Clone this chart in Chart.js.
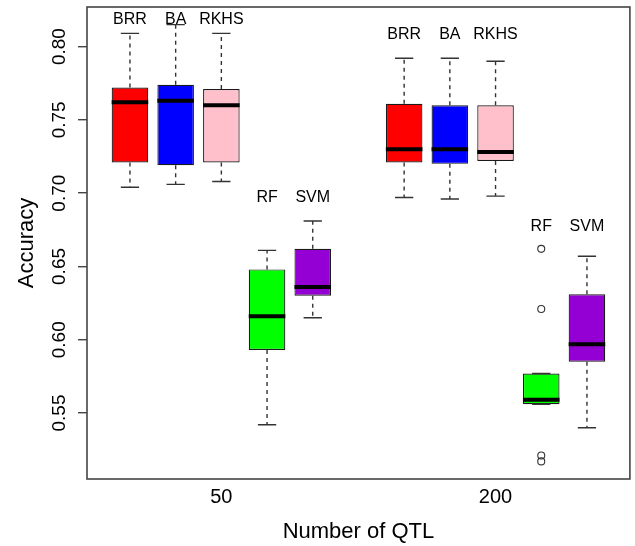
<!DOCTYPE html>
<html>
<head>
<meta charset="utf-8">
<script src="https://cdn.jsdelivr.net/npm/chart.js@4.4.1/dist/chart.umd.min.js"></script>
<style>
  html, body { margin: 0; padding: 0; background: #fff; }
</style>
</head>
<body>
<canvas id="accChart" width="635" height="546"></canvas>
<script>
// box positions on the x axis (1..5 = 50 QTL, 7..11 = 200 QTL)
const methods = ['BRR', 'BA', 'RKHS', 'RF', 'SVM', 'BRR', 'BA', 'RKHS', 'RF', 'SVM'];
const positions = [1, 2, 3, 4, 5, 7, 8, 9, 10, 11];
const boxColors = ['#FF0000', '#0000FF', '#FFC0CB', '#00FF00', '#9400D3',
                   '#FF0000', '#0000FF', '#FFC0CB', '#00FF00', '#9400D3'];

// five-number summaries
const whiskerLow  = [0.704, 0.706, 0.708, 0.542, 0.615, 0.697, 0.696, 0.698, 0.556, 0.540];
const q1          = [0.721, 0.719, 0.721, 0.593, 0.630, 0.721, 0.720, 0.722, 0.556, 0.585];
const medians     = [0.762, 0.763, 0.760, 0.616, 0.636, 0.730, 0.730, 0.728, 0.559, 0.597];
const q3          = [0.772, 0.774, 0.771, 0.648, 0.662, 0.761, 0.760, 0.760, 0.577, 0.631];
const whiskerHigh = [0.809, 0.815, 0.809, 0.661, 0.681, 0.792, 0.792, 0.790, 0.577, 0.657];

// height of the method names above each box
const labelY = [0.819, 0.819, 0.819, 0.698, 0.698, 0.809, 0.809, 0.809, 0.678, 0.678];

// outliers (RF, 200 QTL)
const outlierPos  = [10, 10, 10, 10];
const outlierVals = [0.662, 0.621, 0.521, 0.517];

const groupTicks  = [3, 9];
const groupLabels = ['50', '200'];
const yTicks = [0.55, 0.60, 0.65, 0.70, 0.75, 0.80];

const FONT = "'Liberation Sans', Arial, Helvetica, sans-serif";

// whiskers, medians, text and the frame (R boxplot look)
const boxPlotPlugin = {
  id: 'boxPlotParts',
  afterDatasetsDraw(chart) {
    const c = chart.ctx;
    const xs = chart.scales.x;
    const ys = chart.scales.y;
    const area = chart.chartArea;
    c.save();

    positions.forEach((p, i) => {
      const xc = xs.getPixelForValue(p);
      const halfBox = (xs.getPixelForValue(p + 0.4) - xs.getPixelForValue(p - 0.4)) / 2;
      const halfCap = halfBox / 2;
      const yLo = ys.getPixelForValue(whiskerLow[i]);
      const yQ1 = ys.getPixelForValue(q1[i]);
      const yQ3 = ys.getPixelForValue(q3[i]);
      const yHi = ys.getPixelForValue(whiskerHigh[i]);
      const yMed = ys.getPixelForValue(medians[i]);

      // dashed whiskers
      c.strokeStyle = '#333';
      c.lineWidth = 1.4;
      c.setLineDash([4, 4]);
      c.beginPath();
      c.moveTo(xc, yQ3); c.lineTo(xc, yHi);
      c.moveTo(xc, yQ1); c.lineTo(xc, yLo);
      c.stroke();
      c.setLineDash([]);

      // staples
      c.beginPath();
      c.moveTo(xc - halfCap, yHi); c.lineTo(xc + halfCap, yHi);
      c.moveTo(xc - halfCap, yLo); c.lineTo(xc + halfCap, yLo);
      c.stroke();

      // median
      c.strokeStyle = '#000';
      c.lineWidth = 4;
      c.beginPath();
      c.moveTo(xc - halfBox, yMed); c.lineTo(xc + halfBox, yMed);
      c.stroke();

      // method name
      c.fillStyle = '#000';
      c.font = '16px ' + FONT;
      c.textAlign = 'center';
      c.textBaseline = 'alphabetic';
      c.fillText(methods[i], xc, ys.getPixelForValue(labelY[i]) + 16 * 0.358);
    });

    // rotated y tick labels
    c.font = '19px ' + FONT;
    c.fillStyle = '#000';
    yTicks.forEach(v => {
      const y = ys.getPixelForValue(v);
      c.save();
      c.translate(58.5 + 19 * 0.358, y);
      c.rotate(-Math.PI / 2);
      c.textAlign = 'center';
      c.textBaseline = 'alphabetic';
      c.fillText(v.toFixed(2), 0, 0);
      c.restore();
    });

    // plot frame
    c.strokeStyle = '#444';
    c.lineWidth = 1.6;
    c.strokeRect(area.left, area.top, area.right - area.left, area.bottom - area.top);
    c.restore();
  }
};

const ctx = document.getElementById('accChart');

new Chart(ctx, {
  data: {
    datasets: [
      {
        type: 'bar',
        data: positions.map((p, i) => ({ x: p, y: [q1[i], q3[i]] })),
        backgroundColor: boxColors,
        borderColor: '#1a1a1a',
        borderWidth: 1.2,
        borderSkipped: false,
        barPercentage: 0.8,
        categoryPercentage: 1
      },
      {
        type: 'scatter',
        data: outlierPos.map((p, i) => ({ x: p, y: outlierVals[i] })),
        pointStyle: 'circle',
        pointRadius: 3.5,
        pointBorderWidth: 1.1,
        pointBorderColor: '#333',
        pointBackgroundColor: 'rgba(255,255,255,0)'
      }
    ]
  },
  options: {
    responsive: false,
    animation: false,
    layout: { padding: { left: 0, top: 7, right: 3, bottom: 0 } },
    plugins: {
      legend: { display: false },
      tooltip: { enabled: false }
    },
    scales: {
      x: {
        type: 'linear',
        min: 0.06,
        max: 11.94,
        offset: false,
        grid: { display: false, drawTicks: false, offset: false },
        border: { display: false },
        afterBuildTicks: s => { s.ticks = groupTicks.map(v => ({ value: v })); },
        afterFit: s => { s.height = 67; },
        ticks: {
          autoSkip: false,
          maxRotation: 0,
          padding: 6,
          color: '#000',
          font: { size: 20, family: FONT },
          callback: v => groupLabels[groupTicks.indexOf(v)]
        },
        title: {
          display: true,
          text: 'Number of QTL',
          color: '#000',
          font: { size: 22, family: FONT },
          padding: { top: 0, bottom: 1 }
        }
      },
      y: {
        type: 'linear',
        min: 0.505,
        max: 0.827,
        afterBuildTicks: s => { s.ticks = yTicks.map(v => ({ value: v })); },
        afterFit: s => { s.width = 87; },
        ticks: { display: false },
        grid: {
          display: true,
          drawOnChartArea: false,
          drawTicks: true,
          tickLength: 9,
          color: '#444',
          lineWidth: 1.4
        },
        border: { display: false },
        title: {
          display: true,
          text: 'Accuracy',
          color: '#000',
          font: { size: 22, family: FONT },
          padding: { top: 14, bottom: 0 }
        }
      }
    }
  },
  plugins: [boxPlotPlugin]
});
</script>
</body>
</html>
